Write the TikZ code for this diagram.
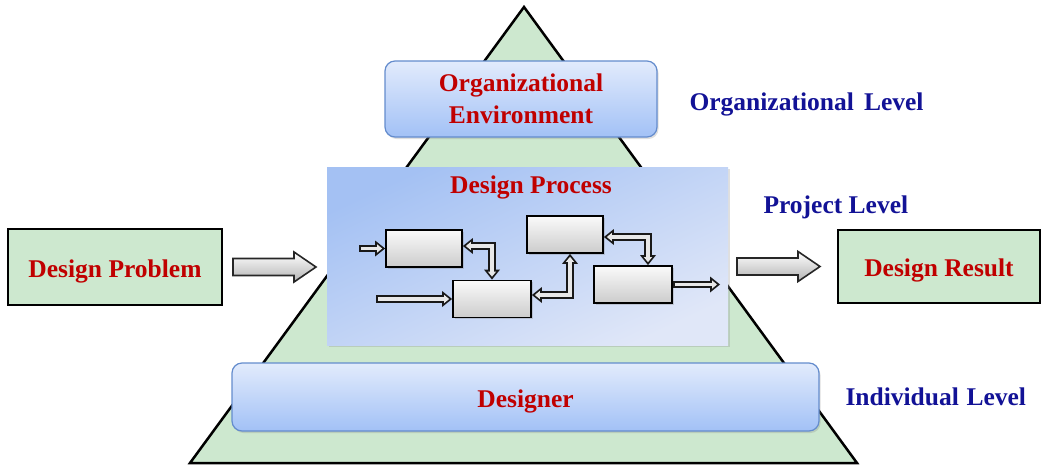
\documentclass[tikz,border=0pt]{standalone}
\usepackage{fontspec}
\setmainfont{Liberation Serif}
\usetikzlibrary{arrows.meta,shadows,calc}
\definecolor{tgreen}{RGB}{205,232,207}
\definecolor{tred}{RGB}{192,0,0}
\definecolor{tblue}{RGB}{18,18,150}
\definecolor{obTop}{RGB}{226,235,252}
\definecolor{obBot}{RGB}{162,193,246}
\definecolor{obLine}{RGB}{100,140,205}
\definecolor{pDark}{RGB}{164,193,243}
\definecolor{pLight}{RGB}{224,231,248}
\definecolor{arrIn}{RGB}{232,232,232}
\newcommand\bigarr[1]{\draw[bigarrow] (#1) -- ++(0,-8.5) -- ++(61,0) -- ++(0,-6.5) -- ++(22,15) -- ++(-22,15) -- ++(0,-6.5) -- ++(-61,0) -- cycle;}
\begin{document}
\begin{tikzpicture}[x=1pt,y=-1pt,
  every node/.style={font=\bfseries\fontsize{25.5}{32}\selectfont},
  tri/.style={draw=black, line width=2.5pt, fill=tgreen, line join=miter},
  orgbox/.style={draw=obLine, line width=1.2pt, rounded corners=10pt, top color=obTop, bottom color=obBot,
     inner sep=0pt, text=tred, align=center,
     drop shadow={opacity=0.25, shadow xshift=1.5pt, shadow yshift=-2pt}},
  procbox/.style={top color=pDark, bottom color=pLight, shading angle=25, inner sep=0pt,
     minimum width=401pt, minimum height=178pt,
     drop shadow={opacity=0.25, shadow xshift=1.5pt, shadow yshift=-2pt}},
  gbox/.style={draw=black, line width=2pt, fill=tgreen, inner sep=0pt, text=tred,
     text height=20pt, text depth=0pt},
  blk/.style={draw=black, line width=1.8pt, top color=gray!4, bottom color=gray!40,
     minimum height=37pt, inner sep=0pt,
     drop shadow={opacity=0.3, shadow xshift=1.5pt, shadow yshift=-1.5pt}},
  lvl/.style={anchor=base west, text=tblue},
  bigarrow/.style={draw=black!85, line width=1.6pt, line join=miter, top color=white, bottom color=gray!60},
  oS/.style={draw=black!90, line width=7.5pt, line join=miter,
     -{Triangle[length=10pt,width=16pt,line width=0pt]}},
  iS/.style={draw=arrIn, line width=3.7pt, line join=miter, shorten <=1.9pt, shorten >=3pt,
     -{Triangle[length=5pt,width=8.4pt,line width=0pt]}},
  oD/.style={draw=black!90, line width=7.5pt, line join=miter,
     {Triangle[length=10pt,width=16pt,line width=0pt]}-{Triangle[length=10pt,width=16pt,line width=0pt]}},
  iD/.style={draw=arrIn, line width=3.7pt, line join=miter, shorten <=3pt, shorten >=3pt,
     {Triangle[length=5pt,width=8.4pt,line width=0pt]}-{Triangle[length=5pt,width=8.4pt,line width=0pt]}}
]
\useasboundingbox (0,0) rectangle (1041,464);

% pyramid
\draw[tri] (524,7) -- (857,463) -- (190,463) -- cycle;

% main boxes
\node[procbox] (proc) at (527.5,256) {};
\node[anchor=base, text=tred] (ptitle) at (531,193) {Design Process};
\node[orgbox, minimum width=272pt, minimum height=76pt] (org) at (521,99) {Organizational\\Environment};
\node[orgbox, minimum width=587pt, minimum height=68pt, text height=20pt, text depth=0pt] (des) at (525.5,397) {Designer};
\node[gbox, minimum width=214pt, minimum height=76pt] (dp) at (115,267) {Design Problem};
\node[gbox, minimum width=202pt, minimum height=73pt] (dr) at (939,266.5) {Design Result};

% level labels
\node[lvl] (lo) at (686,110) {Organizational\hspace{0.4em}Level};
\node[lvl] (lp) at (760,213) {Project Level};
\node[lvl] (li) at (842,405) {Individual\hspace{0.3em}Level};

% big arrows
\coordinate (b1) at ($(dp.east)+(10,0)$);
\coordinate (b2) at ($(dr.west)+(-100,0)$);
\bigarr{b1}
\bigarr{b2}

% process blocks
\node[blk, minimum width=76pt] (A) at (424,248.5) {};
\node[blk, minimum width=78pt] (B) at (492,299) {};
\node[blk, minimum width=76pt] (C) at (565,234.5) {};
\node[blk, minimum width=78pt] (D) at (633,284.5) {};

\coordinate (i1) at (359,248.5);
\coordinate (i2) at (376,299);
\coordinate (o1) at (720,284.5);

\draw[oS] (i1) -- (A.west);
\draw[iS] (i1) -- (A.west);
\draw[oS] (i2) -- (B.west);
\draw[iS] (i2) -- (B.west);
\draw[oD] ([yshift=2.5pt]A.east) -| (B.north);
\draw[iD] ([yshift=2.5pt]A.east) -| (B.north);
\draw[oD] ([yshift=4pt]B.east) -| ([xshift=5pt]C.south);
\draw[iD] ([yshift=4pt]B.east) -| ([xshift=5pt]C.south);
\draw[oD] ([yshift=-2.5pt]C.east) -| ([xshift=15pt]D.north);
\draw[iD] ([yshift=-2.5pt]C.east) -| ([xshift=15pt]D.north);
\draw[oS] (D.east) -- (o1);
\draw[iS] (D.east) -- (o1);
\end{tikzpicture}
\end{document}
